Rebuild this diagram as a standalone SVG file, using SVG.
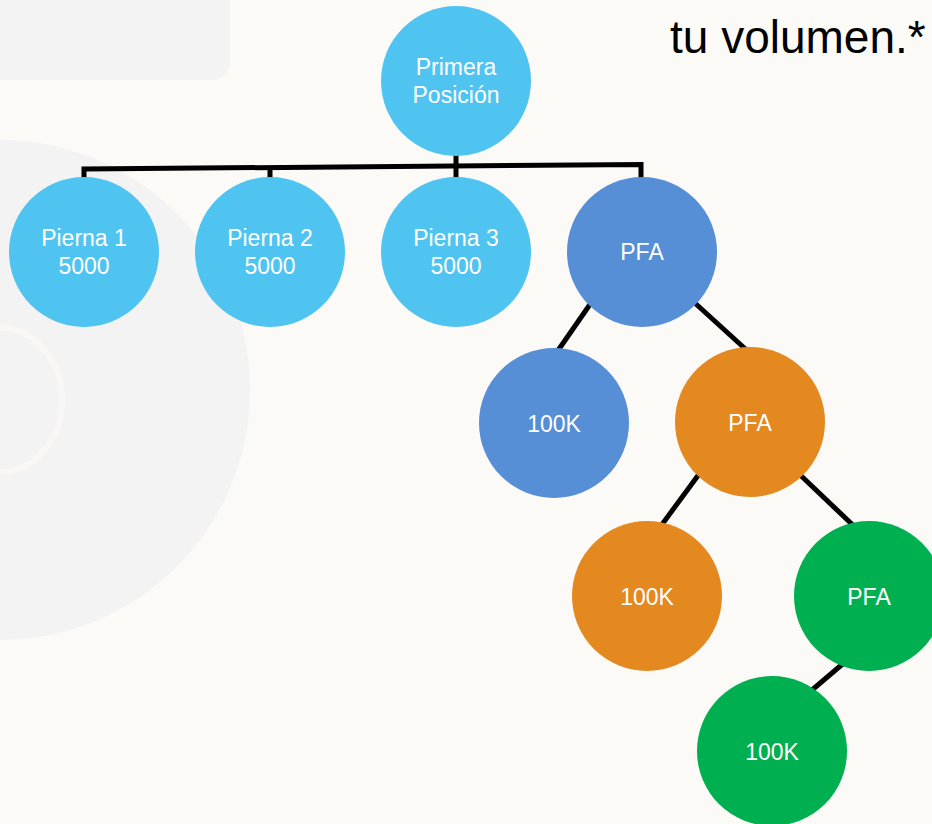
<svg xmlns="http://www.w3.org/2000/svg" width="932" height="824" viewBox="0 0 932 824">
<style>
.lbl{font-family:"Liberation Sans",Arial,sans-serif;font-size:23px;fill:#ffffff;text-anchor:middle}
.c1{fill:#50c4f0}
.c2{fill:#568fd6}
.c3{fill:#e38920}
.c4{fill:#00b050}
.conn{stroke:#000;stroke-width:5;fill:none;stroke-linejoin:miter}
</style>
<g id="background">
<rect x="0" y="0" width="932" height="824" fill="#fcfaf7"/>
<rect x="-30" y="-30" width="260" height="110" rx="18" fill="#f4f3f3"/>
<circle cx="0" cy="390" r="250" fill="#f4f3f3"/>
<ellipse cx="0" cy="400" rx="62" ry="72" fill="none" stroke="#f8f7f5" stroke-width="6"/>
</g>
<g id="title">
<text x="670" y="53" font-family="'Liberation Sans',Arial,sans-serif" font-size="46" fill="#000">tu volumen.*</text>
</g>
<g id="connectors">
<path class="conn" d="M84,180 V169 L641,164.5 V180"/>
<path class="conn" d="M456,150 V180"/>
<path class="conn" d="M270,168 V180"/>
<path class="conn" d="M600,290 L550,362"/>
<path class="conn" d="M685,294 L752,355"/>
<path class="conn" d="M705,466 L655,534"/>
<path class="conn" d="M795,470 L858,530"/>
<path class="conn" d="M852,656 L805,696"/>
</g>
<g id="node-primera">
<circle class="c1" cx="456" cy="81" r="75"/>
<text class="lbl" x="456" y="75">Primera</text>
<text class="lbl" x="456" y="103">Posición</text>
</g>
<g id="node-pierna1">
<circle class="c1" cx="84" cy="252" r="75"/>
<text class="lbl" x="84" y="246">Pierna 1</text>
<text class="lbl" x="84" y="274">5000</text>
</g>
<g id="node-pierna2">
<circle class="c1" cx="270" cy="252" r="75"/>
<text class="lbl" x="270" y="246">Pierna 2</text>
<text class="lbl" x="270" y="274">5000</text>
</g>
<g id="node-pierna3">
<circle class="c1" cx="456" cy="252" r="75"/>
<text class="lbl" x="456" y="246">Pierna 3</text>
<text class="lbl" x="456" y="274">5000</text>
</g>
<g id="node-pfa1">
<circle class="c2" cx="642" cy="252" r="75"/>
<text class="lbl" x="642" y="260">PFA</text>
</g>
<g id="node-100k-1">
<circle class="c2" cx="554" cy="423" r="75"/>
<text class="lbl" x="554" y="432">100K</text>
</g>
<g id="node-pfa2">
<circle class="c3" cx="750" cy="422" r="75"/>
<text class="lbl" x="750" y="431">PFA</text>
</g>
<g id="node-100k-2">
<circle class="c3" cx="647" cy="596" r="75"/>
<text class="lbl" x="647" y="605">100K</text>
</g>
<g id="node-pfa3">
<circle class="c4" cx="869" cy="596" r="75"/>
<text class="lbl" x="869" y="605">PFA</text>
</g>
<g id="node-100k-3">
<circle class="c4" cx="772" cy="751" r="75"/>
<text class="lbl" x="772" y="760">100K</text>
</g>
</svg>
